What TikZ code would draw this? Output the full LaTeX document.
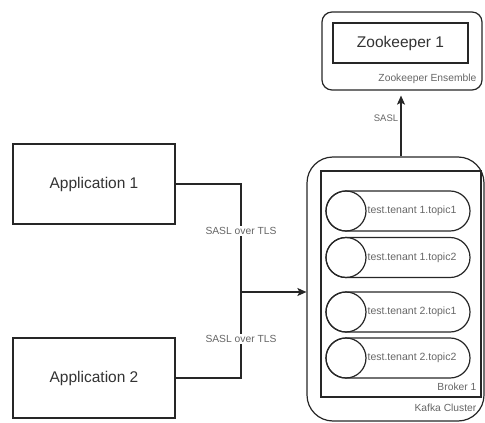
\documentclass[tikz,border=0pt]{standalone}
\usepackage{fontspec}
\setmainfont{Liberation Sans}
\usetikzlibrary{arrows.meta}
\definecolor{txt}{HTML}{333333}
\definecolor{lbl}{HTML}{666666}
\begin{document}
\begin{tikzpicture}[x=1pt,y=-1pt,line width=1.2pt,
  box/.style={draw=black!85,rectangle,inner sep=0pt,font=\fontsize{15.5}{18}\selectfont,text=txt},
  pillbox/.style={draw=black!85,rectangle,rounded corners=19.9pt,minimum width=144pt,minimum height=40pt,inner sep=0pt},
  knob/.style={draw=black!85,circle,minimum size=40pt,inner sep=0pt},
  small/.style={font=\fontsize{10.3}{12}\selectfont,text=lbl,inner sep=0pt},
  conn/.style={draw=black!85,line width=1.2pt},
  tip/.style={-{Stealth[length=9pt,width=8pt,inset=2pt]}}
]
\useasboundingbox (0,0) rectangle (485,423);
% Zookeeper ensemble
\node[box,rounded corners=10pt,minimum width=160pt,minimum height=78pt] (zke) at (402,51) {};
\node[box,minimum width=135pt,minimum height=40pt] (zk1) at (400.5,43) {Zookeeper 1};
\node[small,anchor=east] (zkel) at (477,79) {Zookeeper Ensemble};
% Kafka cluster
\node[box,rounded corners=26pt,minimum width=177pt,minimum height=264pt] (kafka) at (395.5,289) {};
\node[box,minimum width=160pt,minimum height=226pt] (broker) at (401,284) {};
\node[small,anchor=east] (brl) at (477,387) {Broker 1};
\node[small,anchor=east] (kcl) at (477,408) {Kafka Cluster};
% topics
\foreach \n/\y/\t in {t11/211/{test.tenant 1.topic1},t12/257.5/{test.tenant 1.topic2},t21/312/{test.tenant 2.topic1},t22/358/{test.tenant 2.topic2}}{
  \node[pillbox] (\n p) at (398,\y) {};
  \node[knob] (\n c) at (346,\y) {};
  \node[small,font=\fontsize{10.5}{12}\selectfont] (\n) at (412,\y) {\t};
}
% applications
\node[box,minimum width=162pt,minimum height=80pt] (app1) at (94,184) {Application 1};
\node[box,minimum width=162pt,minimum height=80pt] (app2) at (94,378) {Application 2};
% connectors
\coordinate (j) at (241,292);
\draw[conn] (app1.east) -| (j);
\draw[conn] (app2.east) -| (j);
\draw[conn,tip] (j) -- (j -| kafka.west);
\node[small,fill=white,inner sep=1pt] (l1) at (241,231) {SASL over TLS};
\node[small,fill=white,inner sep=1pt] (l2) at (241,339) {SASL over TLS};
\draw[conn,tip,shorten >=5pt] (kafka.north -| 401,0) -- (zke.south -| 401,0);
\node[small,fill=white,inner sep=1pt,font=\fontsize{9.5}{11}\selectfont] (sasl) at (386,118) {SASL};
\end{tikzpicture}
\end{document}
